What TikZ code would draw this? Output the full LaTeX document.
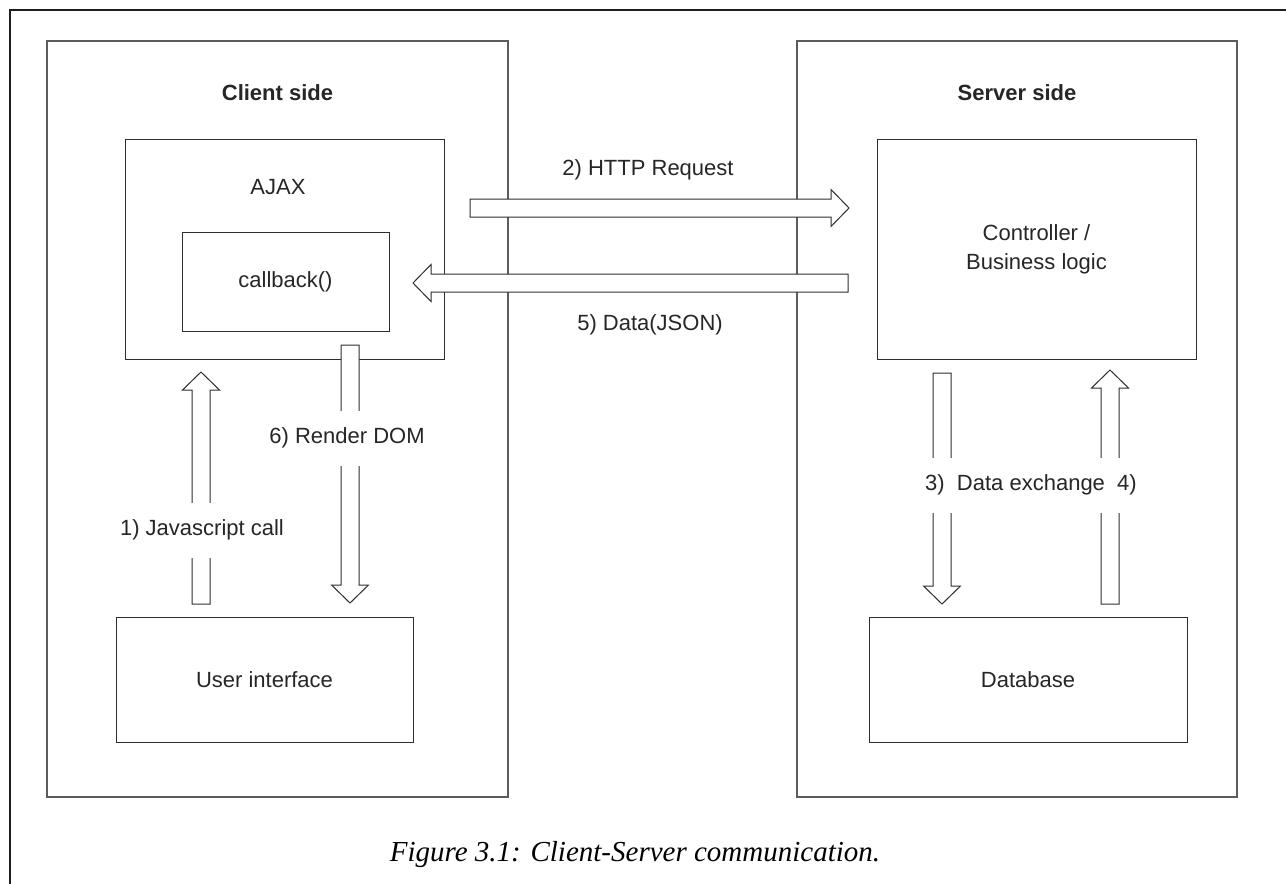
\documentclass[tikz,border=0pt]{standalone}
\usepackage{fontspec}
\setmainfont{Liberation Sans}
\newfontfamily\captionfont{Liberation Serif}
\usetikzlibrary{calc}
\definecolor{FrameInk}{HTML}{1E1E1E}
\definecolor{SideInk}{HTML}{5C5C5C}
\definecolor{PartInk}{HTML}{2E2E2E}

\tikzset{
  diagtext/.style={font=\fontsize{22}{29}\selectfont, text=black!85},
  sidebox/.style={draw=SideInk, line width=1.6pt, minimum width=#1, minimum height=756pt},
  partbox/.style={draw=PartInk, line width=1pt, inner sep=0pt, align=center, diagtext},
  steplabel/.style={diagtext, fill=white, inner xsep=1pt, minimum height=55pt},
  blockarrow/.style={
    draw=PartInk, fill=white, line width=1pt, line join=miter,
    to path={let \p1=(\tikztostart), \p2=(\tikztotarget), \p3=($(\p2)!18pt!(\p1)$) in
      ($(\p1)!9pt!90:(\p2)$) -- ($(\p3)!9pt!90:(\p2)$) -- ($(\p3)!18.5pt!90:(\p2)$)
      -- (\p2) -- ($(\p3)!18.5pt!-90:(\p2)$) -- ($(\p3)!9pt!-90:(\p2)$)
      -- ($(\p1)!9pt!-90:(\p2)$) -- cycle}
  }
}

\begin{document}
\begin{tikzpicture}[x=1pt, y=-1pt]
  \useasboundingbox (0,0) rectangle (1286,884);
  \draw[FrameInk, line width=1.2pt] (1286,10) -- (10,10) -- (10,884);

  \node[sidebox=461pt] (client) at (277.5,419) {};
  \node[sidebox=440pt] (server) at (1017,419) {};
  \node[diagtext, font=\fontsize{22}{29}\selectfont\bfseries] (clienttitle) at (277.5,93) {Client side};
  \node[diagtext, font=\fontsize{22}{29}\selectfont\bfseries] (servertitle) at (1017,93) {Server side};

  \node[partbox, minimum width=319pt, minimum height=220pt] (ajax) at (284.5,249) {};
  \node[diagtext] (ajaxtitle) at (278,187) {AJAX};
  \node[partbox, minimum width=207pt, minimum height=99pt] (callback) at (285.5,281.5) {callback()};
  \node[partbox, minimum width=297pt, minimum height=125pt] (ui) at (264.5,679.5) {User interface};
  \node[partbox, minimum width=319pt, minimum height=220pt] (logic) at (1036.5,249) {Controller /\\Business logic};
  \node[partbox, minimum width=318pt, minimum height=125pt] (db) at (1028,679.5) {Database};

  \coordinate (req-from) at (470,208);
  \coordinate (req-to) at (849,208);
  \coordinate (data-from) at (848,283);
  \coordinate (data-to) at (413,283);
  \coordinate (dom-from) at (350,345);
  \coordinate (dom-to) at (350,603);
  \coordinate (js-from) at (201,604);
  \coordinate (js-to) at (201,372);
  \coordinate (query-from) at (942,373);
  \coordinate (query-to) at (942,604);
  \coordinate (reply-from) at (1110,604);
  \coordinate (reply-to) at (1110,370);

  \draw[blockarrow] (req-from) to (req-to);
  \draw[blockarrow] (data-from) to (data-to);
  \draw[blockarrow] (dom-from) to (dom-to);
  \draw[blockarrow] (js-from) to (js-to);
  \draw[blockarrow] (query-from) to (query-to);
  \draw[blockarrow] (reply-from) to (reply-to);

  \node[diagtext] (reqlabel) at (648,170) {2) HTTP Request};
  \node[diagtext] (datalabel) at (650,325) {5) Data(JSON)};
  \node[steplabel] (domlabel) at (347,438) {6) Render DOM};
  \node[steplabel] (jslabel) at (202,530) {1) Javascript call};
  \node[steplabel] (exchlabel) at (1031,485) {3)\ \ Data exchange\ \ 4)};

  \node[font=\captionfont\itshape\fontsize{29}{34}\selectfont] (caption) at (635,855) {Figure 3.1: Client-Server communication.};
\end{tikzpicture}
\end{document}
